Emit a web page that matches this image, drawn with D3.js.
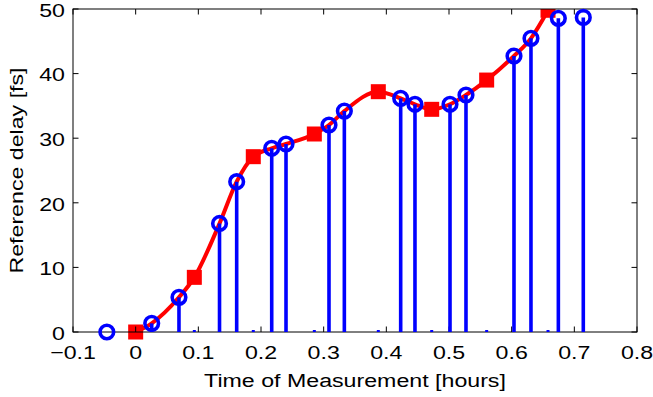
<!DOCTYPE html>
<html>
<head>
<meta charset="utf-8">
<script src="https://cdn.jsdelivr.net/npm/d3@7"></script>
<style>
  html, body { margin: 0; padding: 0; background: #fff; }
  svg { display: block; }
  text { font-family: "Liberation Sans", Arial, Helvetica, sans-serif; fill: #000; }
</style>
</head>
<body>
<svg id="chart" width="653" height="397"></svg>
<script>
// ---- data ----
const measTimes  = [-0.046, 0.0256, 0.0691, 0.1338, 0.1612, 0.2171, 0.2399, 0.3085, 0.3330, 0.4229, 0.4457, 0.5016, 0.5271, 0.6037, 0.6308, 0.6745, 0.7143];
const measDelays = [0, 1.34, 5.37, 16.8, 23.27, 28.44, 29.1, 32.04, 34.2, 36.17, 35.25, 35.25, 36.69, 42.72, 45.46, 48.56, 48.7];
const refTimes   = [0, 0.0936, 0.1877, 0.2851, 0.3872, 0.4724, 0.5601, 0.658];
const refDelays  = [0, 8.46, 27.14, 30.65, 37.2, 34.47, 39.0, 49.8];
const xTicks = [-0.1, 0, 0.1, 0.2, 0.3, 0.4, 0.5, 0.6, 0.7, 0.8];
const yTicks = [0, 10, 20, 30, 40, 50];
const xLabel = "Time of Measurement [hours]";
const yLabel = "Reference delay [fs]";

// ---- layout ----
const L = 73, R = 637, T = 9, B = 332;
const fs = 19, sx = 1.22;
const svg = d3.select("#chart");
const x = d3.scaleLinear().domain([-0.1, 0.8]).range([L, R]);
const y = d3.scaleLinear().domain([0, 50]).range([B, T]);
const fmt = d => (d < 0 ? "\u2212" : "") + Math.abs(d).toString();

svg.append("defs").append("clipPath").attr("id", "clipTop")
  .append("rect").attr("x", 0).attr("y", T).attr("width", 653).attr("height", 397 - T);

// ---- red reference curve ----
const tMin = d3.min(refTimes), tMax = d3.max(refTimes);
const curvePts = refTimes.map((t, i) => [t, refDelays[i]])
  .concat(measTimes.map((t, i) => [t, measDelays[i]]).filter(p => p[0] > tMin && p[0] < tMax))
  .sort((a, b) => a[0] - b[0]);
const red = svg.append("g").attr("clip-path", "url(#clipTop)");
red.append("path")
  .attr("d", d3.line().x(d => x(d[0])).y(d => y(d[1])).curve(d3.curveMonotoneX)(curvePts))
  .attr("fill", "none").attr("stroke", "#ff0000").attr("stroke-width", 4);
const sq = 15;
red.selectAll("rect.sq").data(refTimes).join("rect")
  .attr("x", (t) => x(t) - sq / 2)
  .attr("y", (t, i) => y(refDelays[i]) - sq / 2)
  .attr("width", sq).attr("height", sq).attr("fill", "#ff0000");

// ---- axes box ----
const ax = svg.append("g").attr("stroke", "#000").attr("stroke-width", 1).attr("fill", "none");
ax.append("rect").attr("x", L).attr("y", T).attr("width", R - L).attr("height", B - T);
const tl = 5.5;
xTicks.forEach(t => {
  ax.append("line").attr("x1", x(t)).attr("x2", x(t)).attr("y1", B).attr("y2", B - tl);
  ax.append("line").attr("x1", x(t)).attr("x2", x(t)).attr("y1", T).attr("y2", T + tl);
});
yTicks.forEach(v => {
  ax.append("line").attr("x1", L).attr("x2", L + tl).attr("y1", y(v)).attr("y2", y(v));
  ax.append("line").attr("x1", R).attr("x2", R - tl).attr("y1", y(v)).attr("y2", y(v));
});

// ---- blue stems ----
const blue = svg.append("g");
blue.selectAll("rect.zero").data(refTimes.filter(t => t > 0)).join("rect")
  .attr("x", t => x(t) - 1.5).attr("y", y(0) - 2).attr("width", 3).attr("height", 2)
  .attr("fill", "#0000ff");
blue.selectAll("line.stem").data(measTimes).join("line")
  .attr("x1", t => x(t)).attr("x2", t => x(t))
  .attr("y1", y(0)).attr("y2", (t, i) => y(measDelays[i]))
  .attr("stroke", "#0000ff").attr("stroke-width", 3.6);
blue.selectAll("circle").data(measTimes).join("circle")
  .attr("cx", t => x(t)).attr("cy", (t, i) => y(measDelays[i]))
  .attr("r", 6.8).attr("fill", "none").attr("stroke", "#0000ff").attr("stroke-width", 3.6);

// ---- tick labels ----
const lab = svg.append("g").style("font-size", fs + "px");
xTicks.forEach(t => {
  lab.append("text").attr("text-anchor", "middle")
    .attr("transform", `translate(${x(t)},359) scale(${sx},1)`).text(fmt(t));
});
yTicks.forEach(v => {
  lab.append("text").attr("text-anchor", "end").attr("dominant-baseline", "central")
    .attr("transform", `translate(65,${y(v) + 1}) scale(${sx},1)`).text(fmt(v));
});
lab.append("text").attr("text-anchor", "middle")
  .attr("transform", `translate(${(L + R) / 2},387) scale(${sx},1)`).text(xLabel);
lab.append("text").attr("text-anchor", "middle")
  .attr("transform", `translate(23,${(T + B) / 2}) rotate(-90) scale(${sx},1)`).text(yLabel);
</script>
</body>
</html>
